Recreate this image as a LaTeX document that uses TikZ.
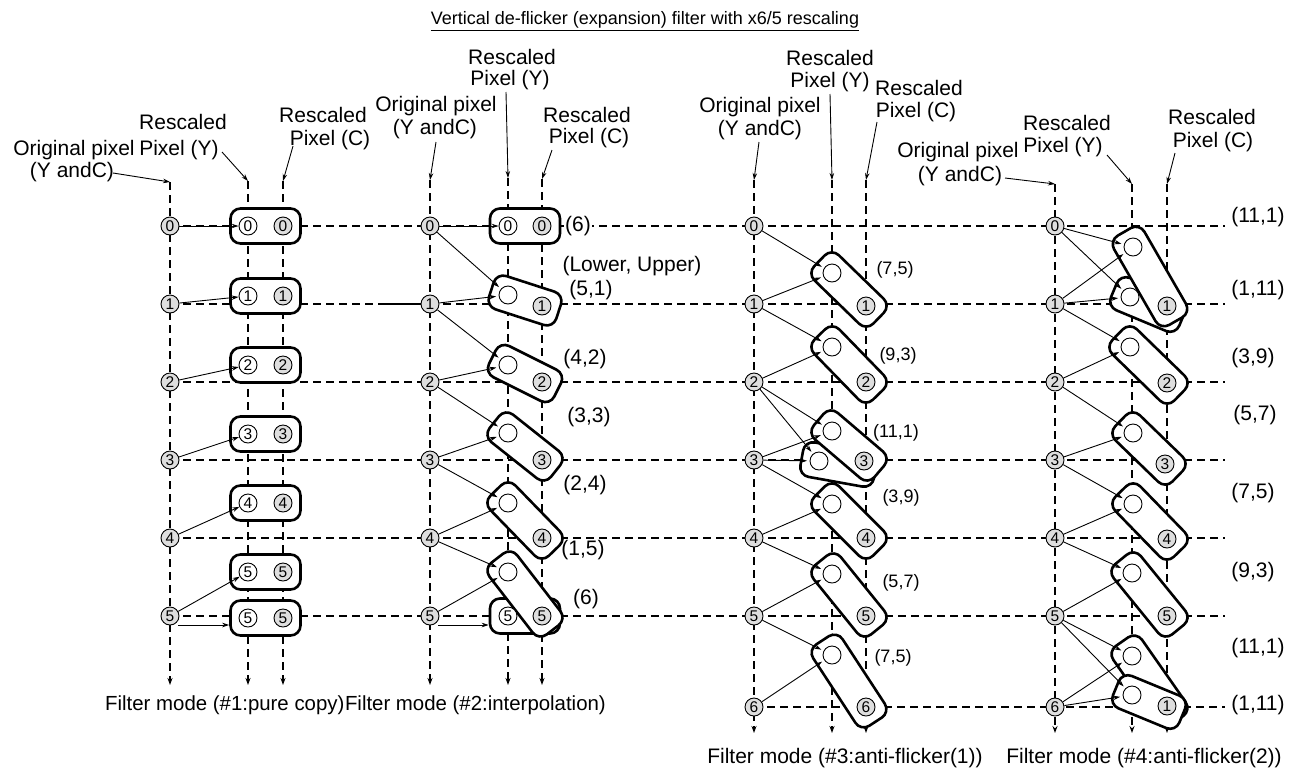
\documentclass[tikz,border=0pt]{standalone}
\usepackage{fontspec}
\setmainfont{Liberation Sans}
\usetikzlibrary{arrows.meta,calc}
\definecolor{pixgray}{RGB}{222,222,222}
\newcommand\lblfont{\fontsize{21}{24}\selectfont}
\newcommand\capfont{\fontsize{20.4}{24}\selectfont}
\newcommand\smlfont{\fontsize{18}{21}\selectfont}
\newcommand\ttlfont{\fontsize{18}{21}\selectfont}
\newcommand\digfont{\fontsize{15.5}{16}\selectfont}
\newcommand\tiltbox[3]{\path let \p1=(#2), \p2=(#3), \n1={atan2(\y2-\y1,\x2-\x1)}, \n2={veclen(\x2-\x1,\y2-\y1)+35} in node[pbox, minimum width=\n2, rotate=\n1] (#1) at ($(#2)!0.5!(#3)$) {};}
\begin{document}
\begin{tikzpicture}[x=1pt,y=-1pt,
 rowline/.style={dash pattern=on 8pt off 5pt, line width=1.2pt},
 colline/.style={rowline, -{Stealth[length=7pt,width=5pt]}},
 conn/.style={line width=0.9pt, -{Stealth[length=7pt,width=4.5pt]}},
 connt/.style={conn, shorten >=2.5pt},
 pbox/.style={rectangle, draw, line width=2.6pt, rounded corners=10pt, fill=white, minimum height=35pt, inner sep=0pt},
 pix/.style={circle, draw, line width=0.9pt, minimum size=18pt, inner sep=0pt, font=\digfont},
 opix/.style={pix, fill=pixgray},
 ypix/.style={pix, fill=white},
 cpix/.style={pix, fill=pixgray},
 lbl/.style={font=\lblfont, inner sep=0pt},
 sml/.style={font=\smlfont, inner sep=0pt}]
\useasboundingbox[fill=white] (0,0) rectangle (1296,772);

% ---------- title
\node[font=\ttlfont, inner sep=0pt] (title) at (645,21) {\underline{Vertical de-flicker (expansion) filter with x6/5 rescaling}};

% ---------- row lines
\foreach \n/\y in {0/226,1/304,2/382,3/460,4/538,5/616}{
  \coordinate (rl\n) at (170,\y); \coordinate (rr\n) at (1225,\y);
  \draw[rowline] (rl\n) -- (rr\n);}
\coordinate (rl6) at (754,707); \coordinate (rr6) at (1225,707);
\draw[rowline] (rl6) -- (rr6);

% ---------- column lines
\foreach \p/\x/\ta/\ba in {p1o/170/182/685, p1y/248/181/685, p1c/283/181/685,
  p2o/430/180/685, p2y/508/178/685, p2c/542/179/685,
  p3o/754/180/733, p3y/832/180/733, p3c/866/180/733,
  p4o/1055/184/733, p4y/1132/184/733, p4c/1167/184/733}{
  \coordinate (\p t) at (\x,\ta); \coordinate (\p b) at (\x,\ba);
  \draw[colline] (\p t) -- (\p b);}

% ---------- header labels and callouts
% panel 1
\node[lbl] (t1a) at (74,150) {Original pixel};
\node[lbl] (t1b) at (72,172) {(Y andC)};
\node[lbl] (t1c) at (183,122) {Rescaled};
\node[lbl] (t1d) at (179,150) {Pixel (Y)};
\node[lbl] (t1e) at (323,115) {Rescaled};
\node[lbl] (t1f) at (330,140) {Pixel (C)};
\coordinate (k1a) at (113,173); \coordinate (k1b) at (222,152); \coordinate (k1c) at (293,146);
\draw[conn] (k1a) -- (p1ot);
\draw[conn] (k1b) -- (p1yt);
\draw[conn] (k1c) -- (p1ct);
% panel 2
\node[lbl] (t2a) at (436,106) {Original pixel};
\node[lbl] (t2b) at (435,129) {(Y andC)};
\node[lbl] (t2c) at (512,57) {Rescaled};
\node[lbl] (t2d) at (510,80) {Pixel (Y)};
\node[lbl] (t2e) at (587,115) {Rescaled};
\node[lbl] (t2f) at (589,138) {Pixel (C)};
\coordinate (k2a) at (436,142); \coordinate (k2b) at (506,92); \coordinate (k2c) at (552,150);
\draw[conn] (k2a) -- (p2ot);
\draw[conn] (k2b) -- (p2yt);
\draw[conn] (k2c) -- (p2ct);
% panel 3
\node[lbl] (t3a) at (760,107) {Original pixel};
\node[lbl] (t3b) at (760,130) {(Y andC)};
\node[lbl] (t3c) at (830,58) {Rescaled};
\node[lbl] (t3d) at (830,82) {Pixel (Y)};
\node[lbl] (t3e) at (919,88) {Rescaled};
\node[lbl] (t3f) at (916,112) {Pixel (C)};
\coordinate (k3a) at (759,142); \coordinate (k3b) at (830,94); \coordinate (k3c) at (877,122);
\draw[conn] (k3a) -- (p3ot);
\draw[conn] (k3b) -- (p3yt);
\draw[conn] (k3c) -- (p3ct);
% panel 4
\node[lbl] (t4a) at (958,152) {Original pixel};
\node[lbl] (t4b) at (960,176) {(Y andC)};
\node[lbl] (t4c) at (1067,123) {Rescaled};
\node[lbl] (t4d) at (1063,147) {Pixel (Y)};
\node[lbl] (t4e) at (1212,117) {Rescaled};
\node[lbl] (t4f) at (1213,142) {Pixel (C)};
\coordinate (k4a) at (1005,178); \coordinate (k4b) at (1107,155); \coordinate (k4c) at (1175,153);
\draw[conn] (k4a) -- (p4ot);
\draw[conn] (k4b) -- (p4yt);
\draw[conn] (k4c) -- (p4ct);

% ---------- panel 1 boxes
\foreach \n/\y in {0/226,1/296,2/365,3/434,4/503,5/572,6/618}{
  \node[pbox, minimum width=70pt] (p1b\n) at (265.5,\y) {};}

% ---------- panel 2 boxes
\node[pbox, minimum width=70pt] (p2b0) at (525,226) {};
\tiltbox{p2b1}{508,295}{542,306}
\tiltbox{p2b2}{508,365}{542,382}
\tiltbox{p2b3}{508,433}{542,460}
\tiltbox{p2b4}{508,503}{542,538}
\node[pbox, minimum width=70pt] (p2b6) at (525,616) {};
\tiltbox{p2b5}{508,572}{542,616}

% ---------- panel 3 boxes
\tiltbox{p3b1}{832,273}{866,306}
\tiltbox{p3b2}{832,347}{866,382}
\tiltbox{p3b3l}{819,461}{858,468}
\tiltbox{p3b3u}{832,431}{866,460}
\tiltbox{p3b4}{832,504}{866,538}
\tiltbox{p3b5}{832,574}{866,616}
\tiltbox{p3b6}{832,655}{866,707}

% ---------- panel 4 boxes
\tiltbox{p4b1s}{1130,297}{1166,312}
\tiltbox{p4b1}{1133,247}{1167,306}
\tiltbox{p4b2}{1130,347}{1167,383}
\tiltbox{p4b3}{1133,433}{1165,464}
\tiltbox{p4b4}{1133,504}{1167,539}
\tiltbox{p4b5}{1132,573}{1167,616}
\tiltbox{p4b6u}{1132,656}{1167,706}
\tiltbox{p4b6l}{1132,695}{1166,709}

% ---------- original pixel circles
\foreach \n/\y in {0/226,1/304,2/382,3/460,4/538,5/616}{
  \node[opix] (p1o\n) at (170,\y) {\n};
  \node[opix] (p2o\n) at (430,\y) {\n};
  \node[opix] (p3o\n) at (754,\y) {\n};
  \node[opix] (p4o\n) at (1055,\y) {\n};}
\node[opix] (p3o6) at (754,707) {6};
\node[opix] (p4o6) at (1055,707) {6};

% ---------- panel 1 rescaled circles
\foreach \n/\y/\d in {0/226/0,1/296/1,2/365/2,3/434/3,4/503/4,5/572/5,6/618/5}{
  \node[ypix] (p1y\n) at (248,\y) {\d};
  \node[cpix] (p1c\n) at (283,\y) {\d};}

% ---------- panel 2 rescaled circles
\node[ypix] (p2y0) at (508,226) {0};
\node[ypix] (p2y1) at (508,295) {};
\node[ypix] (p2y2) at (508,365) {};
\node[ypix] (p2y3) at (508,433) {};
\node[ypix] (p2y4) at (508,503) {};
\node[ypix] (p2y5) at (508,572) {};
\node[ypix] (p2y6) at (508,616) {5};
\node[cpix] (p2c0) at (542,226) {0};
\node[cpix] (p2c1) at (542,306) {1};
\node[cpix] (p2c2) at (542,382) {2};
\node[cpix] (p2c3) at (542,460) {3};
\node[cpix] (p2c4) at (542,538) {4};
\node[cpix] (p2c5) at (542,616) {5};

% ---------- panel 3 rescaled circles
\node[ypix] (p3y1) at (832,273) {};
\node[ypix] (p3y2) at (832,347) {};
\node[ypix] (p3y3u) at (832,431) {};
\node[ypix] (p3y3l) at (819,461) {};
\node[ypix] (p3y4) at (832,504) {};
\node[ypix] (p3y5) at (832,574) {};
\node[ypix] (p3y6) at (832,655) {};
\node[cpix] (p3c1) at (866,306) {1};
\node[cpix] (p3c2) at (866,382) {2};
\node[cpix] (p3c3) at (864,461) {3};
\node[cpix] (p3c4) at (866,538) {4};
\node[cpix] (p3c5) at (866,616) {5};
\node[cpix] (p3c6) at (866,707) {6};

% ---------- panel 4 rescaled circles
\node[ypix] (p4y1) at (1133,247) {};
\node[ypix] (p4y1s) at (1130,297) {};
\node[ypix] (p4y2) at (1130,347) {};
\node[ypix] (p4y3) at (1133,433) {};
\node[ypix] (p4y4) at (1133,504) {};
\node[ypix] (p4y5) at (1132,573) {};
\node[ypix] (p4y6u) at (1132,656) {};
\node[ypix] (p4y6l) at (1132,695) {};
\node[cpix] (p4c1) at (1167,306) {1};
\node[cpix] (p4c2) at (1167,383) {2};
\node[cpix] (p4c3) at (1165,464) {3};
\node[cpix] (p4c4) at (1167,539) {4};
\node[cpix] (p4c5) at (1167,616) {5};
\node[cpix] (p4c6) at (1167,706) {1};

% ---------- panel 1 arrows
\foreach \n in {0,...,5}{\draw[conn] (p1o\n) -- (p1y\n);}
\coordinate (p1s) at (178,625);
\draw[conn] (p1s) -- (p1b6.west |- p1s);

% ---------- panel 2 arrows
\draw[conn] (p2o0) -- (p2y0);
\foreach \a/\b in {0/1,1/1,1/2,2/2,2/3,3/3,3/4,4/4,4/5,5/5}{\draw[connt] (p2o\a) -- (p2y\b);}
\coordinate (p2s) at (438,625);
\draw[conn] (p2s) -- (p2b6.west |- p2s);
\coordinate (p2l) at (378,304);
\draw[line width=1.2pt] (p2l) -- (p2o1);

% ---------- panel 3 arrows
\foreach \a/\b in {0/1,1/1,1/2,2/2,2/3u,2/3l,3/3u,3/3l,3/4,4/4,4/5,5/5,5/6,6/6}{\draw[connt] (p3o\a) -- (p3y\b);}

% ---------- panel 4 arrows
\foreach \a/\b in {0/1,0/1s,1/1,1/1s,1/2,2/2,2/3,3/3,3/4,4/4,4/5,5/5,5/6u,5/6l,6/6u,6/6l}{\draw[connt] (p4o\a) -- (p4y\b);}

% ---------- coefficient labels
\node[lbl, fill=white, inner sep=1.5pt] (q2a) at (578,226) {(6)};
\node[lbl] (q2b) at (632,266) {(Lower, Upper)};
\node[lbl] (q2c) at (591,290) {(5,1)};
\node[lbl] (q2d) at (585,359) {(4,2)};
\node[lbl] (q2e) at (589,417) {(3,3)};
\node[lbl] (q2f) at (585,485) {(2,4)};
\node[lbl] (q2g) at (583,550) {(1,5)};
\node[lbl] (q2h) at (586,599) {(6)};

\node[sml] (q3a) at (895,270) {(7,5)};
\node[sml] (q3b) at (898,356) {(9,3)};
\node[sml] (q3c) at (896,433) {(11,1)};
\node[sml] (q3d) at (901,498) {(3,9)};
\node[sml] (q3e) at (901,583) {(5,7)};
\node[sml] (q3f) at (893,658) {(7,5)};

\node[lbl] (q4a) at (1258,217) {(11,1)};
\node[lbl] (q4b) at (1258,290) {(1,11)};
\node[lbl] (q4c) at (1253,358) {(3,9)};
\node[lbl] (q4d) at (1255,415) {(5,7)};
\node[lbl] (q4e) at (1253,493) {(7,5)};
\node[lbl] (q4f) at (1253,572) {(9,3)};
\node[lbl] (q4g) at (1258,648) {(11,1)};
\node[lbl] (q4h) at (1258,705) {(1,11)};

% ---------- bottom captions
\node[font=\capfont, inner sep=0pt, anchor=west] (m1) at (105,705) {Filter mode (\#1:pure copy)};
\node[font=\capfont, inner sep=0pt, anchor=east] (m2) at (606,705) {Filter mode (\#2:interpolation)};
\node[lbl] (m3) at (845,758) {Filter mode (\#3:anti-flicker(1))};
\node[lbl] (m4) at (1144,758) {Filter mode (\#4:anti-flicker(2))};
\end{tikzpicture}
\end{document}
